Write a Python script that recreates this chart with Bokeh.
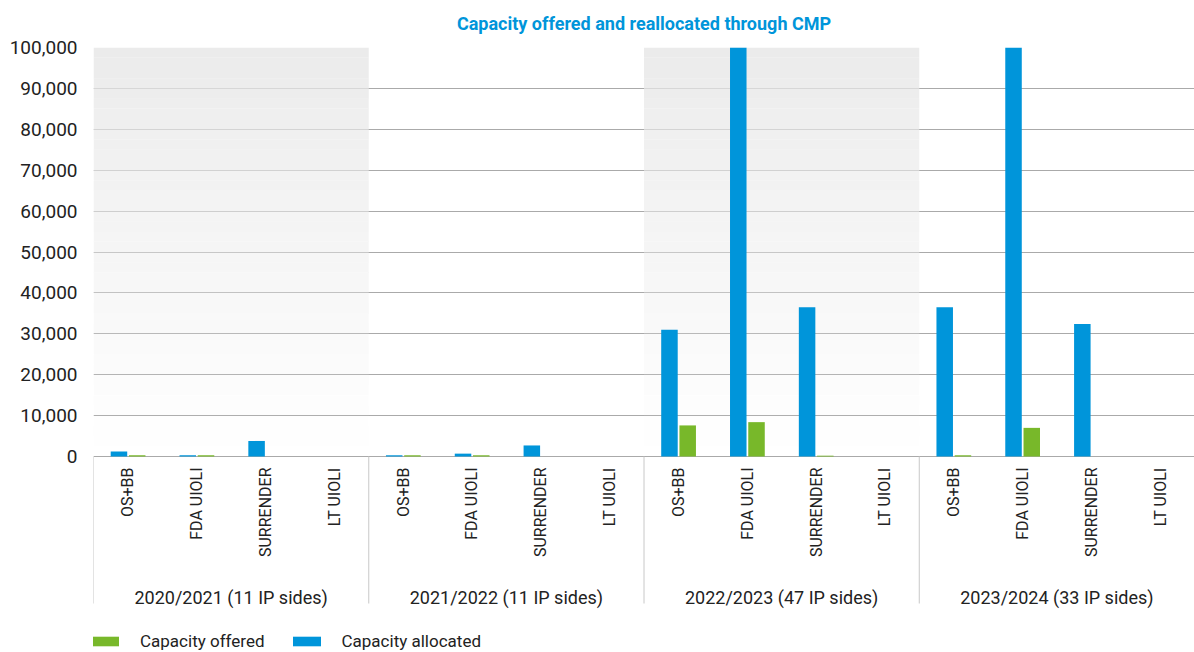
import math
from bokeh.plotting import figure
from bokeh.models import (FactorRange, Legend, LegendItem, NumeralTickFormatter,
                          FixedTicker, Range1d)
from bokeh.core.properties import value
from bokeh.transform import dodge
from bokeh.embed import file_html
from bokeh.resources import INLINE

seasons = ["2020/2021 (11 IP sides)", "2021/2022 (11 IP sides)",
           "2022/2023 (47 IP sides)", "2023/2024 (33 IP sides)"]
mechanisms = ["OS+BB", "FDA UIOLI", "SURRENDER", "LT UIOLI"]
# per season, per mechanism
allocated = [1200, 300, 3800, 0,
             300, 700, 2700, 0,
             31000, 140000, 36500, 0,
             36500, 125000, 32400, 0]
offered = [300, 300, 0, 0,
           300, 300, 0, 0,
           7600, 8400, 200, 0,
           300, 7000, 0, 0]
y_ticks = list(range(0, 100001, 10000))
y_max = 100000
shaded_seasons = [0, 2]

FONT = "Roboto"
BLUE = "#0095da"
GREEN = "#78b82a"
TXT = "#222222"

# layout (pixels)
TOP = 47
PLOT_PX = 409        # height from 0 to y_max
BELOW_PX = 196       # room under the zero line for labels and legend
LEFT = 93
FRAME_W = 1101

x = [(s, m) for s in seasons for m in mechanisms]
nm = len(mechanisms)

y_start = -y_max * BELOW_PX / PLOT_PX

p = figure(x_range=FactorRange(factors=x, group_padding=0, factor_padding=0, range_padding=0),
           y_range=Range1d(y_start, y_max),
           frame_width=FRAME_W, frame_height=PLOT_PX + BELOW_PX,
           min_border_left=LEFT, min_border_right=0, min_border_top=TOP, min_border_bottom=0,
           output_backend="svg", toolbar_location=None)

p.title.text = "Capacity offered and reallocated through CMP"
p.title.align = "center"
p.title.vertical_align = "top"
p.title.text_color = BLUE
p.title.text_font = FONT
p.title.text_font_size = "18px"
p.title.text_font_style = "bold"
p.title.standoff = 23

# gradient background bands for alternate seasons
N = 40
for gi in shaded_seasons:
    lefts, rights, bottoms, tops, alphas = [], [], [], [], []
    for k in range(N):
        lefts.append(gi * nm)
        rights.append((gi + 1) * nm)
        bottoms.append(y_max * k / N)
        tops.append(y_max * (k + 1) / N)
        alphas.append(((k + 0.5) / N) ** 1.1)
    p.quad(left=lefts, right=rights, bottom=bottoms, top=tops,
           fill_color="#ebebeb", fill_alpha=alphas, line_color=None)

src = dict(x=x, allocated=allocated, offered=offered)
r_alloc = p.vbar(x=dodge("x", -0.13, range=p.x_range), top="allocated", bottom=0, width=0.24,
                 source=src, fill_color=BLUE, line_color=None)
r_off = p.vbar(x=dodge("x", 0.135, range=p.x_range), top="offered", bottom=0, width=0.24,
               source=src, fill_color=GREEN, line_color=None)

# category labels (rotated), season labels and separators under the zero line
p.text(x=x, y=[0] * len(x), text=[m for _, m in x], angle=math.pi / 2, y_offset=11,
       text_align="right", text_baseline="middle", text_font=value(FONT),
       text_font_size="16px", text_color=TXT)
p.text(x=seasons, y=[0] * len(seasons), text=seasons, y_offset=141,
       text_align="center", text_baseline="middle", text_font=value(FONT),
       text_font_size="18px", text_color=TXT)
bounds = [i * nm for i in range(len(seasons) + 1)]
p.ray(x=bounds, y=[0] * len(bounds), length=147, length_units="screen",
      angle=-math.pi / 2, line_color="#c8c8c8", line_width=1)

p.outline_line_color = None
p.xaxis.visible = False
p.xgrid.grid_line_color = None
p.ygrid.grid_line_color = "#aaaaaa"
p.ygrid.grid_line_width = 1
p.yaxis.ticker = FixedTicker(ticks=y_ticks)
p.yaxis.formatter = NumeralTickFormatter(format="0,0")
p.yaxis.axis_line_color = None
p.yaxis.major_tick_line_color = None
p.yaxis.minor_tick_line_color = None
p.yaxis.major_label_text_font = FONT
p.yaxis.major_label_text_font_size = "19px"
p.yaxis.major_label_text_color = TXT
p.yaxis.major_label_standoff = 10

legend = Legend(items=[LegendItem(label="Capacity offered", renderers=[r_off]),
                       LegendItem(label="Capacity allocated", renderers=[r_alloc])],
                orientation="horizontal", location=(-6, 1),
                glyph_width=35, glyph_height=12, label_text_font=FONT,
                label_text_font_size="17px", label_text_color=TXT,
                spacing=24, padding=0, margin=0, border_line_color=None,
                background_fill_alpha=0, label_standoff=18, label_height=16)
p.add_layout(legend)

open("out.html", "w").write(file_html(p, INLINE))
